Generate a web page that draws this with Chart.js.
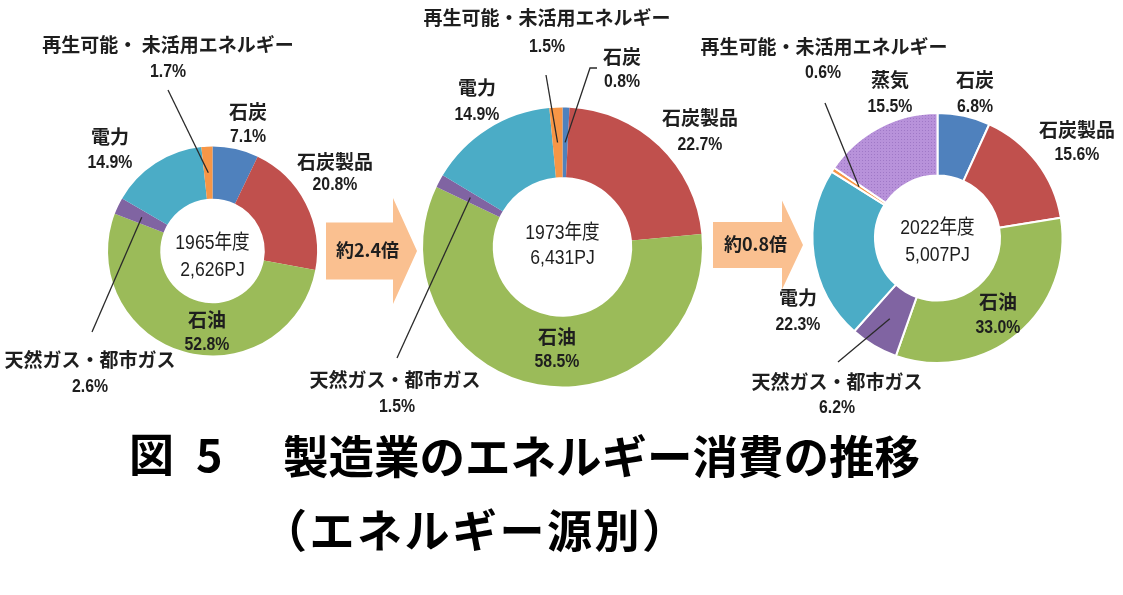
<!DOCTYPE html>
<html lang="ja">
<head>
<meta charset="utf-8">
<script src="https://cdn.jsdelivr.net/npm/chart.js@4.4.1/dist/chart.umd.min.js"></script>
<style>
  html,body{margin:0;padding:0;background:#fff;}
  #wrap{position:relative;width:1123px;height:595px;overflow:hidden;background:#fff;}
  #wrap canvas{position:absolute;left:0;top:0;width:1123px;height:595px;}
  #arrows{position:absolute;left:0;top:0;}
  .t{position:absolute;font-family:'Noto Sans CJK JP',sans-serif;font-weight:bold;font-size:45px;color:#000;line-height:1;white-space:nowrap;}
</style>
</head>
<body>
<div id="wrap">
  <canvas id="c1" width="1123" height="595"></canvas>
  <canvas id="c2" width="1123" height="595"></canvas>
  <canvas id="c3" width="1123" height="595"></canvas>
  <svg id="arrows" width="1123" height="595" xmlns="http://www.w3.org/2000/svg"></svg>
  <div class="t" id="t1a" style="left:129px;top:430px;">図</div>
  <div class="t" id="t1b" style="left:196px;top:430px;">5</div>
  <div class="t" id="t1c" style="left:283px;top:432px;font-size:45.5px;">製造業のエネルギー消費の推移</div>
  <div class="t" id="t2" style="left:262px;top:506px;letter-spacing:2.5px;">（エネルギー源別）</div>
</div>
<script>
// ---- data ----
const categories = ['石炭','石炭製品','石油','天然ガス・都市ガス','電力','再生可能・未活用エネルギー','蒸気'];
const fiscalYears = ['1965年度','1973年度','2022年度'];
const totalsPJ = ['2,626PJ','6,431PJ','5,007PJ'];
const share1965 = [7.1, 20.8, 52.8, 2.6, 14.9, 1.7];
const share1973 = [0.8, 22.7, 58.5, 1.5, 14.9, 1.5];
const share2022 = [6.8, 15.6, 33.0, 6.2, 22.3, 0.6, 15.5];
const ratioLabels = ['約2.4倍','約0.8倍'];

// ---- styles ----
const baseColors = ['#4F81BD','#C0504D','#9BBB59','#8064A2','#4BACC6','#F79646'];
function steamPattern(){
  const c = document.createElement('canvas'); c.width = 3; c.height = 3;
  const g = c.getContext('2d');
  g.fillStyle = '#B892DA'; g.fillRect(0,0,3,3);
  g.fillStyle = '#9F78C6'; g.fillRect(1,1,1,1);
  return g.createPattern(c,'repeat');
}
const nameFont = "bold 19px 'Noto Sans CJK JP', sans-serif";
const pctFont = "bold 18px 'Liberation Sans', 'Noto Sans CJK JP', sans-serif";
const centerFont = "20px 'Liberation Sans', 'Noto Sans CJK JP', sans-serif";
const narrow = 0.88;
const textColor = '#1e1e1e';

// label layout: offsets from ring centre [name, percent, leader points]
const layouts = [
  { cx:212.5, cy:251, r:104.5, border:0, center:[-8,19], items:[
    {n:[35.5,-139], p:[35.5,-114]},
    {n:[122.5,-89], p:[122.5,-66]},
    {n:[-5.5,69],   p:[-5.5,94]},
    {n:[-122.5,109],p:[-122.5,136], leader:[[-120.5,81]]},
    {n:[-102.5,-114],p:[-102.5,-88]},
    {n:[-44.5,-206],p:[-44.5,-179], leader:[[-44.5,-161]], text:'再生可能・ 未活用エネルギー'}
  ]},
  { cx:562.5, cy:247, r:139.5, border:0, center:[-14,11], items:[
    {n:[59.5,-190], p:[59.5,-165], leader:[[27.5,-179],[34.5,-179]]},
    {n:[137.5,-129],p:[137.5,-102]},
    {n:[-5.5,90],   p:[-5.5,115]},
    {n:[-167.5,133],p:[-165.5,160], leader:[[-165.5,111]]},
    {n:[-85.5,-159],p:[-85.5,-132]},
    {n:[-15.5,-229],p:[-15.5,-200], leader:[[-16.5,-172]]}
  ]},
  { cx:937.5, cy:238, r:125, border:2, center:[-10,17], items:[
    {n:[37.5,-158], p:[37.5,-131]},
    {n:[139.5,-108],p:[139.5,-83]},
    {n:[60.5,64],   p:[60.5,90]},
    {n:[-100.5,144],p:[-100.5,170], leader:[[-99.5,124]]},
    {n:[-139.5,60], p:[-139.5,87]},
    {n:[-113.5,-191],p:[-114.5,-165], leader:[[-112.5,-135]]},
    {n:[-47.5,-158],p:[-47.5,-131]}
  ]}
];

function narrowText(ctx, text, x, y, sx){
  ctx.save();
  ctx.translate(x, y);
  ctx.scale(sx, 1);
  ctx.fillText(text, 0, 0);
  ctx.restore();
}

const labelPlugin = {
  id: 'ringLabels',
  afterDatasetsDraw(chart, args, opts){
    const L = opts.layout;
    const ctx = chart.ctx;
    const meta = chart.getDatasetMeta(0);
    const ca = chart.chartArea;
    const cx = (ca.left + ca.right) / 2, cy = (ca.top + ca.bottom) / 2;
    const values = chart.data.datasets[0].data;
    ctx.save();
    ctx.strokeStyle = '#2a2a2a'; ctx.lineWidth = 1.3;
    L.items.forEach((it, i) => {
      if (!it.leader) return;
      const p = meta.data[i].getCenterPoint();
      ctx.beginPath();
      ctx.moveTo(p.x, p.y);
      it.leader.forEach(([dx,dy]) => ctx.lineTo(cx+dx, cy+dy));
      ctx.stroke();
    });
    ctx.fillStyle = textColor;
    ctx.textAlign = 'center'; ctx.textBaseline = 'middle';
    L.items.forEach((it, i) => {
      ctx.font = nameFont;
      ctx.fillText(it.text || chart.data.labels[i], cx+it.n[0], cy+it.n[1]);
      ctx.font = pctFont;
      narrowText(ctx, values[i].toFixed(1) + '%', cx+it.p[0], cy+it.p[1], narrow);
    });
    ctx.font = centerFont;
    narrowText(ctx, opts.year, cx, cy + L.center[0], narrow);
    narrowText(ctx, opts.total, cx, cy + L.center[1], narrow);
    ctx.restore();
  }
};

const W = 1123, H = 595, HALF = 150;
function makeChart(id, values, k){
  const L = layouts[k];
  const n = values.length;
  const colors = baseColors.slice(0, Math.min(n,6));
  if (n > 6) colors.push(steamPattern());
  return new Chart(document.getElementById(id), {
    type: 'doughnut',
    data: {
      labels: categories.slice(0, n),
      datasets: [{
        data: values,
        backgroundColor: colors,
        borderColor: '#ffffff',
        borderWidth: L.border,
        hoverOffset: 0,
        offset: 0,
        radius: L.r,
        cutout: '50%'
      }]
    },
    options: {
      responsive: false,
      animation: false,
      events: [],
      rotation: 0,
      layout: { padding: { left: L.cx - HALF, right: W - L.cx - HALF, top: L.cy - HALF, bottom: H - L.cy - HALF } },
      plugins: {
        legend: { display: false },
        tooltip: { enabled: false },
        ringLabels: { layout: L, year: fiscalYears[k], total: totalsPJ[k] }
      }
    },
    plugins: [labelPlugin]
  });
}
makeChart('c1', share1965, 0);
makeChart('c2', share1973, 1);
makeChart('c3', share2022, 2);

// ---- growth arrows ----
const arrowGeom = [
  {x0:326, x1:393, x2:417, yc:251, body:28.5, head:53},
  {x0:713, x1:782, x2:803, yc:245, body:23, head:44.5}
];
const svg = document.getElementById('arrows');
const NS = 'http://www.w3.org/2000/svg';
ratioLabels.forEach((txt, i) => {
  const a = arrowGeom[i];
  const poly = document.createElementNS(NS, 'polygon');
  const pts = [[a.x0,a.yc-a.body],[a.x1,a.yc-a.body],[a.x1,a.yc-a.head],[a.x2,a.yc],[a.x1,a.yc+a.head],[a.x1,a.yc+a.body],[a.x0,a.yc+a.body]];
  poly.setAttribute('points', pts.map(p => p.join(',')).join(' '));
  poly.setAttribute('fill', '#FAC090');
  svg.appendChild(poly);
  const t = document.createElementNS(NS, 'text');
  t.setAttribute('x', (a.x0 + a.x1) / 2 + 8);
  t.setAttribute('y', a.yc + 1);
  t.setAttribute('text-anchor', 'middle');
  t.setAttribute('dominant-baseline', 'middle');
  t.setAttribute('font-family', "'Noto Sans CJK JP', sans-serif");
  t.setAttribute('font-weight', 'bold');
  t.setAttribute('font-size', '18');
  t.setAttribute('fill', '#1e1e1e');
  t.textContent = txt;
  svg.appendChild(t);
});
</script>
</body>
</html>
